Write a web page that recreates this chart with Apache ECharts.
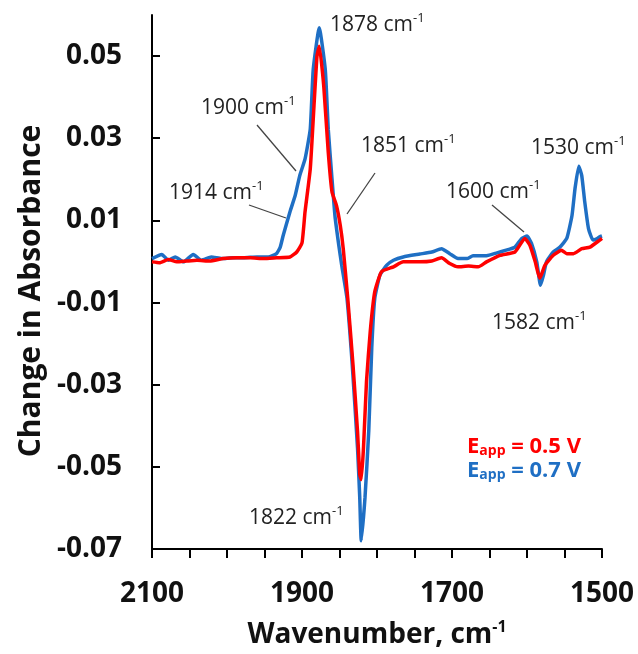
<!DOCTYPE html>
<html>
<head>
<meta charset="utf-8">
<script src="https://cdn.jsdelivr.net/npm/echarts@6/dist/echarts.min.js"></script>
<style>
  html, body { margin: 0; padding: 0; background: #fff; }
  #chart { width: 638px; height: 654px; }
</style>
</head>
<body>
<div id="chart"></div>
<script>
// E_app = 0.7 V (blue)
const wnBlue = [2100, 2087, 2078, 2069, 2058, 2045, 2034, 2021, 2007, 1992, 1978, 1960, 1945, 1934, 1929,
  1925, 1916, 1909, 1903, 1896, 1889, 1885, 1877, 1869, 1865, 1860, 1856, 1851, 1847, 1840, 1833, 1826,
  1823, 1821, 1816, 1811, 1807, 1803, 1796, 1787, 1778, 1765, 1743, 1727, 1714, 1703, 1692, 1680, 1672,
  1654, 1640, 1623, 1616, 1607, 1600, 1594, 1587, 1582, 1578, 1574, 1565, 1556, 1547, 1540, 1536, 1531,
  1527, 1523, 1518, 1512, 1507, 1503, 1500];
const absBlue = [0.0007, 0.0017, 0.0003, 0.0011, -0.0001, 0.0017, 0.0003, 0.0011, 0.0007, 0.0009, 0.0009, 0.0011, 0.0011, 0.0019, 0.0035,
  0.0064, 0.0121, 0.0161, 0.0209, 0.0249, 0.0322, 0.0468, 0.0569, 0.0468, 0.0322, 0.0201, 0.011, 0.004, -0.001, -0.009, -0.0252, -0.0453,
  -0.0575, -0.068, -0.0575, -0.0413, -0.0211, -0.009, -0.0033, -0.0009, 0.0003, 0.0011, 0.0018, 0.0023, 0.0031, 0.0019, 0.0007, 0.0007, 0.0014,
  0.0014, 0.0021, 0.003, 0.0035, 0.0056, 0.0062, 0.0044, -0.0001, -0.0058, -0.0033, -0.0001, 0.0023, 0.0035, 0.0056, 0.0112, 0.0177, 0.0232,
  0.0209, 0.0145, 0.008, 0.0052, 0.0055, 0.006, 0.0062];

// E_app = 0.5 V (red)
const wnRed = [2100, 2090, 2078, 2067, 2054, 2040, 2023, 2005, 1987, 1969, 1951, 1934, 1916, 1907, 1900,
  1896, 1889, 1885, 1880, 1877, 1871, 1865, 1860, 1854, 1849, 1845, 1839, 1832, 1826, 1823, 1821, 1818,
  1814, 1809, 1803, 1794, 1778, 1765, 1743, 1727, 1714, 1703, 1692, 1678, 1665, 1654, 1636, 1616, 1603,
  1596, 1589, 1583, 1576, 1565, 1554, 1547, 1538, 1527, 1516, 1503, 1500];
const absRed = [-0.0001, -0.0003, 0.0005, -0.0001, 0.0001, 0.0003, 0.0001, 0.0007, 0.0009, 0.0009, 0.0007, 0.0009, 0.0011, 0.0023, 0.0045,
  0.012, 0.0225, 0.0347, 0.05, 0.0524, 0.0427, 0.0266, 0.0169, 0.0136, 0.0088, 0.0031, -0.009, -0.0252, -0.0413, -0.0518, -0.0531, -0.0453,
  -0.0292, -0.017, -0.0074, -0.0025, -0.0013, -0.0001, -0.0001, 0.0001, 0.0009, -0.0005, -0.0013, -0.0011, -0.0013, -0.0001, 0.0015, 0.0023, 0.0056,
  0.0039, -0.0001, -0.0041, -0.0009, 0.0015, 0.0027, 0.0019, 0.0019, 0.0031, 0.0035, 0.0052, 0.0056];

const xLabelValues = [2100, 1900, 1700, 1500];
const yLabelValues = [-0.07, -0.05, -0.03, -0.01, 0.01, 0.03, 0.05];

const RED = "#ff0000";
const BLUE = "#1f6fc4";
const FONT = "Open Sans";

const zip = (xs, ys) => xs.map((x, i) => [x, ys[i]]);

// peak labels: text, left x, centre y
const peakLabels = [
  ["1878", 330, 25],
  ["1900", 201, 108],
  ["1851", 361, 146],
  ["1914", 169, 193],
  ["1530", 531, 148],
  ["1600", 446, 192],
  ["1582", 492, 323],
  ["1822", 249, 518],
];
// leader lines
const leaders = [
  [257, 125, 296, 171],
  [249, 205, 286, 218],
  [375, 173, 347, 214],
  [492, 205, 524, 232],
];

const graphics = [];
peakLabels.forEach(([t, x, y]) => {
  graphics.push({
    type: "text",
    x: x,
    y: y,
    style: {
      text: "{a|" + t + " cm}{s|-1}",
      verticalAlign: "middle",
      rich: {
        a: { fontFamily: FONT, fontSize: 21, fill: "#222", lineHeight: 26 },
        s: { fontFamily: FONT, fontSize: 13, fill: "#222", verticalAlign: "top", lineHeight: 26, padding: [0, 0, 10, 0] },
      },
    },
  });
});
leaders.forEach(([x1, y1, x2, y2]) => {
  graphics.push({
    type: "line",
    shape: { x1, y1, x2, y2 },
    style: { stroke: "#444", lineWidth: 1.3 },
  });
});
[["0.5 V", RED, 447], ["0.7 V", BLUE, 471]].forEach(([v, c, y]) => {
  graphics.push({
    type: "text",
    x: 467,
    y: y,
    style: {
      text: "{e|E}{b|app}{e| = " + v + "}",
      verticalAlign: "middle",
      rich: {
        e: { fontFamily: FONT, fontWeight: "bold", fontSize: 22, fill: c, lineHeight: 26 },
        b: { fontFamily: FONT, fontWeight: "bold", fontSize: 14, fill: c, lineHeight: 26, padding: [8, 0, 0, 0] },
      },
    },
  });
});

const myChart = echarts.init(document.getElementById("chart"));
const option = {
  animation: false,
  grid: { left: 152, right: 36, top: 15, bottom: 102 },
  xAxis: {
    type: "value",
    inverse: true,
    min: 1500,
    max: 2100,
    interval: 50,
    name: "{a|Wavenumber, cm}{s|-1}",
    nameLocation: "middle",
    nameGap: 70,
    nameTextStyle: {
      rich: {
        a: { fontFamily: FONT, fontWeight: "bold", fontSize: 28, color: "#111", lineHeight: 32 },
        s: { fontFamily: FONT, fontWeight: "bold", fontSize: 16, color: "#111", verticalAlign: "top", lineHeight: 32, padding: [0, 0, 12, 0] },
      },
    },
    axisLine: { onZero: false, lineStyle: { color: "#000", width: 2 } },
    axisTick: { show: true, length: 9, lineStyle: { color: "#000", width: 2 } },
    splitLine: { show: false },
    axisLabel: {
      customValues: xLabelValues,
      margin: 31,
      fontFamily: FONT,
      fontWeight: "bold",
      fontSize: 28,
      color: "#111",
      formatter: (v) => String(v),
    },
  },
  yAxis: {
    type: "value",
    min: -0.07,
    max: 0.06,
    interval: 0.02,
    name: "Change in Absorbance",
    nameLocation: "middle",
    nameRotate: 90,
    nameGap: 104,
    nameTextStyle: { fontFamily: FONT, fontWeight: "bold", fontSize: 30, color: "#111", padding: [0, 18, 0, 0] },
    axisLine: { show: true, onZero: false, lineStyle: { color: "#000", width: 2 } },
    axisTick: { show: true, inside: true, length: 8, customValues: yLabelValues, lineStyle: { color: "#000", width: 2 } },
    splitLine: { show: false },
    axisLabel: {
      customValues: yLabelValues,
      margin: 30,
      fontFamily: FONT,
      fontWeight: "bold",
      fontSize: 28,
      color: "#111",
      formatter: (v) => v.toFixed(2),
    },
  },
  series: [
    {
      name: "0.7 V",
      type: "line",
      data: zip(wnBlue, absBlue),
      showSymbol: false,
      smooth: 0.15,
      lineStyle: { color: BLUE, width: 3.5 },
      itemStyle: { color: BLUE },
    },
    {
      name: "0.5 V",
      type: "line",
      data: zip(wnRed, absRed),
      showSymbol: false,
      smooth: 0.15,
      lineStyle: { color: RED, width: 3.5 },
      itemStyle: { color: RED },
    },
  ],
  graphic: graphics,
};
myChart.setOption(option);
</script>
</body>
</html>
